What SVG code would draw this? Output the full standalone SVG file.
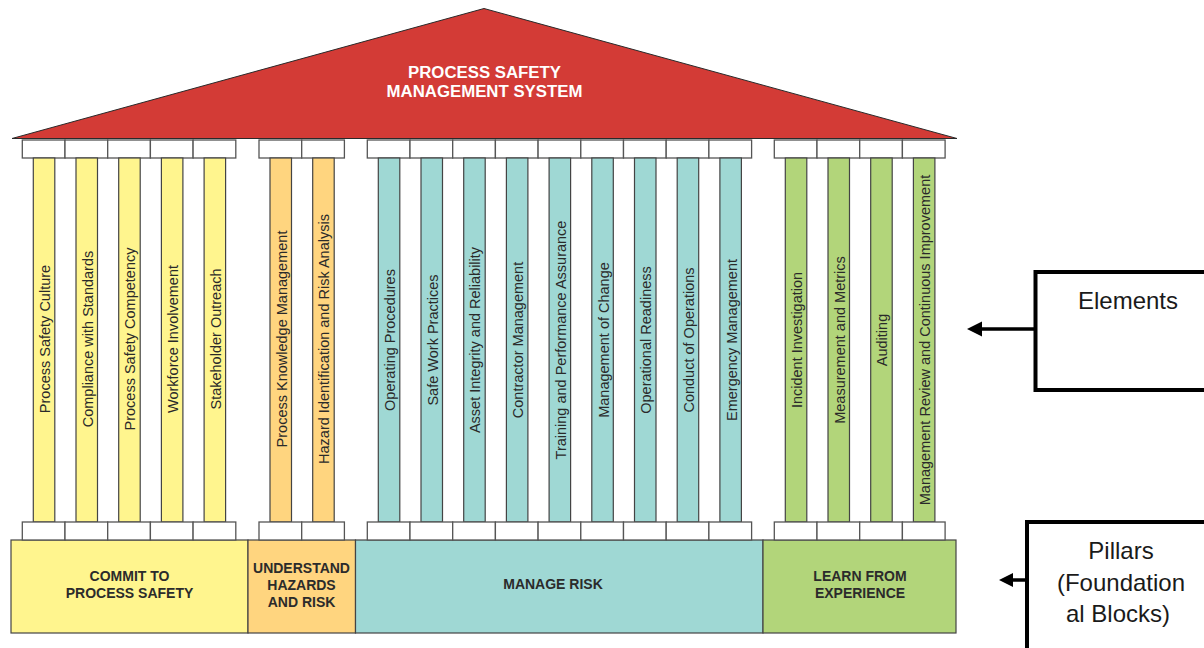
<svg xmlns="http://www.w3.org/2000/svg" width="1204" height="648" viewBox="0 0 1204 648">
<style>
.cap{fill:#ffffff;stroke:#555555;stroke-width:1.3}
.col{stroke:#444444;stroke-width:1.2}
.y{fill:#FFF58E}.o{fill:#FFD57F}.t{fill:#9FD8D4}.g{fill:#B2D57A}
.lbl{font-family:"Liberation Sans",Arial,sans-serif;font-size:14.5px;fill:#2a2a2a;text-anchor:middle}
.blk{stroke:#444444;stroke-width:1.2}
.btx{font-family:"Liberation Sans",Arial,sans-serif;font-size:14px;font-weight:bold;fill:#2b2b2b;text-anchor:middle}
.roof{font-family:"Liberation Sans",Arial,sans-serif;font-size:16.8px;font-weight:bold;fill:#ffffff;text-anchor:middle}
.note{font-family:"Liberation Sans",Arial,sans-serif;font-size:24px;fill:#1a1a1a;text-anchor:middle}
.box{fill:#ffffff;stroke:#000000;stroke-width:4}
.arr{stroke:#000000;stroke-width:3.5;fill:none}
</style>

<g id="roof">
<polygon points="12,138.5 484,8.5 957,138.5" fill="#D33B36" stroke="#2a2a2a" stroke-width="1"/>
<text class="roof" x="484.5" y="78">PROCESS SAFETY</text>
<text class="roof" x="484.5" y="97">MANAGEMENT SYSTEM</text>
</g>

<g id="pillar-commit">
<rect class="blk y" x="11" y="540" width="237" height="93"/>
<text class="btx" x="129.5" y="581">COMMIT TO</text>
<text class="btx" x="129.5" y="598">PROCESS SAFETY</text>
</g>
<g id="pillar-understand">
<rect class="blk o" x="248" y="540" width="107.5" height="93"/>
<text class="btx" x="301.5" y="572.5">UNDERSTAND</text>
<text class="btx" x="301.5" y="590">HAZARDS</text>
<text class="btx" x="301.5" y="607">AND RISK</text>
</g>
<g id="pillar-manage">
<rect class="blk t" x="355.5" y="540" width="407.5" height="93"/>
<text class="btx" x="553" y="589">MANAGE RISK</text>
</g>
<g id="pillar-learn">
<rect class="blk g" x="763" y="540" width="193" height="93"/>
<text class="btx" x="860" y="581">LEARN FROM</text>
<text class="btx" x="860" y="598">EXPERIENCE</text>
</g>

<g id="e1"><rect class="cap" x="22.3" y="140" width="42.7" height="18"/><rect class="col y" x="33.3" y="158" width="21.5" height="364"/><rect class="cap" x="22.3" y="522" width="42.7" height="18"/><text class="lbl" transform="translate(44,339) rotate(-90)" y="6">Process Safety Culture</text></g>
<g id="e2"><rect class="cap" x="65" y="140" width="42.7" height="18"/><rect class="col y" x="76" y="158" width="21.5" height="364"/><rect class="cap" x="65" y="522" width="42.7" height="18"/><text class="lbl" transform="translate(86.7,339) rotate(-90)" y="6">Compliance with Standards</text></g>
<g id="e3"><rect class="cap" x="107.7" y="140" width="42.7" height="18"/><rect class="col y" x="118.7" y="158" width="21.5" height="364"/><rect class="cap" x="107.7" y="522" width="42.7" height="18"/><text class="lbl" transform="translate(129.4,339) rotate(-90)" y="6">Process Safety Competency</text></g>
<g id="e4"><rect class="cap" x="150.4" y="140" width="42.7" height="18"/><rect class="col y" x="161.4" y="158" width="21.5" height="364"/><rect class="cap" x="150.4" y="522" width="42.7" height="18"/><text class="lbl" transform="translate(172.1,339) rotate(-90)" y="6">Workforce Involvement</text></g>
<g id="e5"><rect class="cap" x="193.1" y="140" width="42.7" height="18"/><rect class="col y" x="204.1" y="158" width="21.5" height="364"/><rect class="cap" x="193.1" y="522" width="42.7" height="18"/><text class="lbl" transform="translate(214.8,339) rotate(-90)" y="6">Stakeholder Outreach</text></g>

<g id="e6"><rect class="cap" x="259" y="140" width="42.7" height="18"/><rect class="col o" x="270" y="158" width="21.5" height="364"/><rect class="cap" x="259" y="522" width="42.7" height="18"/><text class="lbl" transform="translate(280.7,339) rotate(-90)" y="6">Process Knowledge Management</text></g>
<g id="e7"><rect class="cap" x="301.7" y="140" width="42.7" height="18"/><rect class="col o" x="312.7" y="158" width="21.5" height="364"/><rect class="cap" x="301.7" y="522" width="42.7" height="18"/><text class="lbl" transform="translate(323.4,339) rotate(-90)" y="6">Hazard Identification and Risk Analysis</text></g>

<g id="e8"><rect class="cap" x="367.3" y="140" width="42.7" height="18"/><rect class="col t" x="378.3" y="158" width="21.5" height="364"/><rect class="cap" x="367.3" y="522" width="42.7" height="18"/><text class="lbl" transform="translate(389,340) rotate(-90)" y="6">Operating Procedures</text></g>
<g id="e9"><rect class="cap" x="410" y="140" width="42.7" height="18"/><rect class="col t" x="421" y="158" width="21.5" height="364"/><rect class="cap" x="410" y="522" width="42.7" height="18"/><text class="lbl" transform="translate(431.7,340) rotate(-90)" y="6">Safe Work Practices</text></g>
<g id="e10"><rect class="cap" x="452.7" y="140" width="42.7" height="18"/><rect class="col t" x="463.7" y="158" width="21.5" height="364"/><rect class="cap" x="452.7" y="522" width="42.7" height="18"/><text class="lbl" transform="translate(474.4,340) rotate(-90)" y="6">Asset Integrity and Reliability</text></g>
<g id="e11"><rect class="cap" x="495.4" y="140" width="42.7" height="18"/><rect class="col t" x="506.4" y="158" width="21.5" height="364"/><rect class="cap" x="495.4" y="522" width="42.7" height="18"/><text class="lbl" transform="translate(517.1,340) rotate(-90)" y="6">Contractor Management</text></g>
<g id="e12"><rect class="cap" x="538.1" y="140" width="42.7" height="18"/><rect class="col t" x="549.1" y="158" width="21.5" height="364"/><rect class="cap" x="538.1" y="522" width="42.7" height="18"/><text class="lbl" transform="translate(559.8,340) rotate(-90)" y="6">Training and Performance Assurance</text></g>
<g id="e13"><rect class="cap" x="580.8" y="140" width="42.7" height="18"/><rect class="col t" x="591.8" y="158" width="21.5" height="364"/><rect class="cap" x="580.8" y="522" width="42.7" height="18"/><text class="lbl" transform="translate(602.5,340) rotate(-90)" y="6">Management of Change</text></g>
<g id="e14"><rect class="cap" x="623.5" y="140" width="42.7" height="18"/><rect class="col t" x="634.5" y="158" width="21.5" height="364"/><rect class="cap" x="623.5" y="522" width="42.7" height="18"/><text class="lbl" transform="translate(645.2,340) rotate(-90)" y="6">Operational Readiness</text></g>
<g id="e15"><rect class="cap" x="666.2" y="140" width="42.7" height="18"/><rect class="col t" x="677.2" y="158" width="21.5" height="364"/><rect class="cap" x="666.2" y="522" width="42.7" height="18"/><text class="lbl" transform="translate(687.9,340) rotate(-90)" y="6">Conduct of Operations</text></g>
<g id="e16"><rect class="cap" x="708.9" y="140" width="42.7" height="18"/><rect class="col t" x="719.9" y="158" width="21.5" height="364"/><rect class="cap" x="708.9" y="522" width="42.7" height="18"/><text class="lbl" transform="translate(730.6,340) rotate(-90)" y="6">Emergency Management</text></g>

<g id="e17"><rect class="cap" x="774.3" y="140" width="42.7" height="18"/><rect class="col g" x="785.3" y="158" width="21.5" height="364"/><rect class="cap" x="774.3" y="522" width="42.7" height="18"/><text class="lbl" transform="translate(796,340) rotate(-90)" y="6">Incident Investigation</text></g>
<g id="e18"><rect class="cap" x="817" y="140" width="42.7" height="18"/><rect class="col g" x="828" y="158" width="21.5" height="364"/><rect class="cap" x="817" y="522" width="42.7" height="18"/><text class="lbl" transform="translate(838.7,340) rotate(-90)" y="6">Measurement and Metrics</text></g>
<g id="e19"><rect class="cap" x="859.7" y="140" width="42.7" height="18"/><rect class="col g" x="870.7" y="158" width="21.5" height="364"/><rect class="cap" x="859.7" y="522" width="42.7" height="18"/><text class="lbl" transform="translate(881.4,340) rotate(-90)" y="6">Auditing</text></g>
<g id="e20"><rect class="cap" x="902.4" y="140" width="42.7" height="18"/><rect class="col g" x="913.4" y="158" width="21.5" height="364"/><rect class="cap" x="902.4" y="522" width="42.7" height="18"/><text class="lbl" transform="translate(924.1,340) rotate(-90)" y="6">Management Review and Continuous Improvement</text></g>

<g id="note-elements">
<rect class="box" x="1035.5" y="272" width="200" height="118"/>
<text class="note" x="1128" y="309">Elements</text>
</g>
<g id="note-pillars">
<rect class="box" x="1027" y="522" width="200" height="150"/>
<text class="note" x="1121" y="559">Pillars</text>
<text class="note" x="1121" y="591">(Foundation</text>
<text class="note" x="1118" y="622">al Blocks)</text>
</g>

<g id="connectors">
<line class="arr" x1="1034" y1="329" x2="980" y2="329"/>
<polygon points="967,329 982,321.5 982,336.5" fill="#000000"/>
<line class="arr" x1="1026" y1="580" x2="1010" y2="580"/>
<polygon points="999,580 1013,573 1013,587" fill="#000000"/>
</g>
</svg>
